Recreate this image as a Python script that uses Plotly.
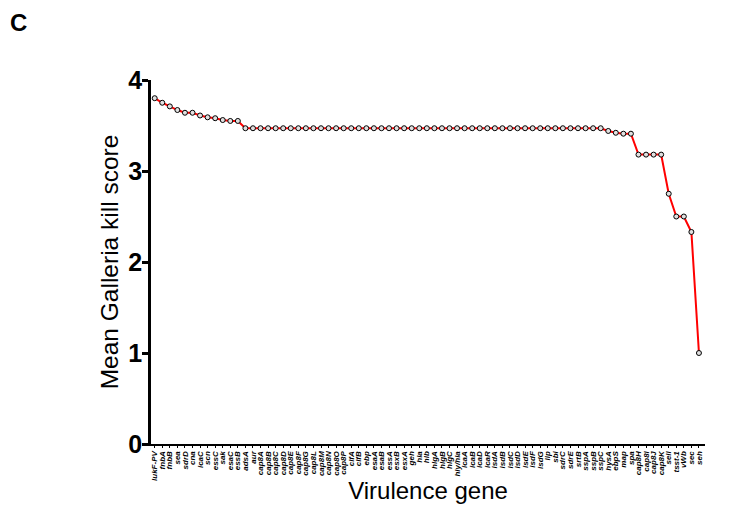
import plotly.graph_objects as go

genes = ["lukF-PV", "fnbA", "fnbB", "sea", "sdrD", "cna", "icaC", "scn", "essC", "sak",
         "esaC", "essB", "adsA", "aur",
         "cap8A", "cap8B", "cap8C", "cap8D", "cap8E", "cap8F", "cap8G", "cap8L", "cap8M",
         "cap8N", "cap8O", "cap8P", "clfA", "clfB", "ebp", "esaA", "esaB", "essA", "esxB",
         "esxA", "geh", "hla", "hlb", "hlgA", "hlgB", "hlgC", "hly/hla", "icaA", "icaB",
         "icaD", "icaR", "isdA", "isdB", "isdC", "isdD", "isdE", "isdF", "isdG", "lip",
         "sbi", "sdrC", "sdrE", "srtB", "sspA", "sspB", "sspC", "hysA", "ebpS", "map",
         "spa", "cap8H", "cap8I", "cap8J", "cap8K", "sell", "tsst-1", "vWb", "sec", "seh"]

scores = [3.80, 3.75, 3.71, 3.67, 3.64, 3.64, 3.61, 3.59, 3.58, 3.56, 3.55, 3.55,
          3.47, 3.47, 3.47, 3.47, 3.47, 3.47, 3.47, 3.47, 3.47, 3.47, 3.47, 3.47,
          3.47, 3.47, 3.47, 3.47, 3.47, 3.47, 3.47, 3.47, 3.47, 3.47, 3.47, 3.47,
          3.47, 3.47, 3.47, 3.47, 3.47, 3.47, 3.47, 3.47, 3.47, 3.47, 3.47, 3.47,
          3.47, 3.47, 3.47, 3.47, 3.47, 3.47, 3.47, 3.47, 3.47, 3.47, 3.47, 3.47,
          3.44, 3.42, 3.41, 3.41, 3.18, 3.18, 3.18, 3.18, 2.75, 2.50, 2.50, 2.33, 1.00]

y_ticks = [0, 1, 2, 3, 4]

fig = go.Figure()
fig.add_trace(go.Scatter(
    x=list(range(len(genes))), y=scores, mode="lines+markers",
    line=dict(color="#ff0000", width=2),
    marker=dict(size=5, color="#e0e0e0", line=dict(color="black", width=1)),
    showlegend=False,
))

fig.update_layout(
    width=744, height=504,
    paper_bgcolor="white", plot_bgcolor="white",
    margin=dict(l=143, r=47, t=72, b=63),
    font=dict(family="Liberation Sans, Arial, sans-serif", color="black"),
    xaxis=dict(
        range=[-0.49, 72.8], tickmode="array",
        tickvals=list(range(len(genes))), ticktext=genes,
        tickangle=-90, tickfont=dict(size=8, weight="bold", style="italic"),
        showline=True, linecolor="black", linewidth=2, showgrid=False, zeroline=False,
        ticks="outside", ticklen=2, tickwidth=1, tickcolor="black",
        title=dict(text="Virulence gene", font=dict(size=24), standoff=2),
    ),
    yaxis=dict(
        range=[0, 4], tickvals=y_ticks,
        tickfont=dict(size=25, weight="bold"),
        showline=True, linecolor="black", linewidth=2.5, showgrid=False, zeroline=False,
        ticks="outside", ticklen=6, tickwidth=2.5, tickcolor="black",
        ticklabelstandoff=-5,
        title=dict(text="Mean Galleria kill score", font=dict(size=24.5), standoff=3),
    ),
    annotations=[dict(text="<b>C</b>", xref="paper", yref="paper",
                      x=-143 / 554, y=1 + 58 / 369, xanchor="left", yanchor="middle",
                      showarrow=False, font=dict(size=24))],
)
fig.write_html("out.html")
